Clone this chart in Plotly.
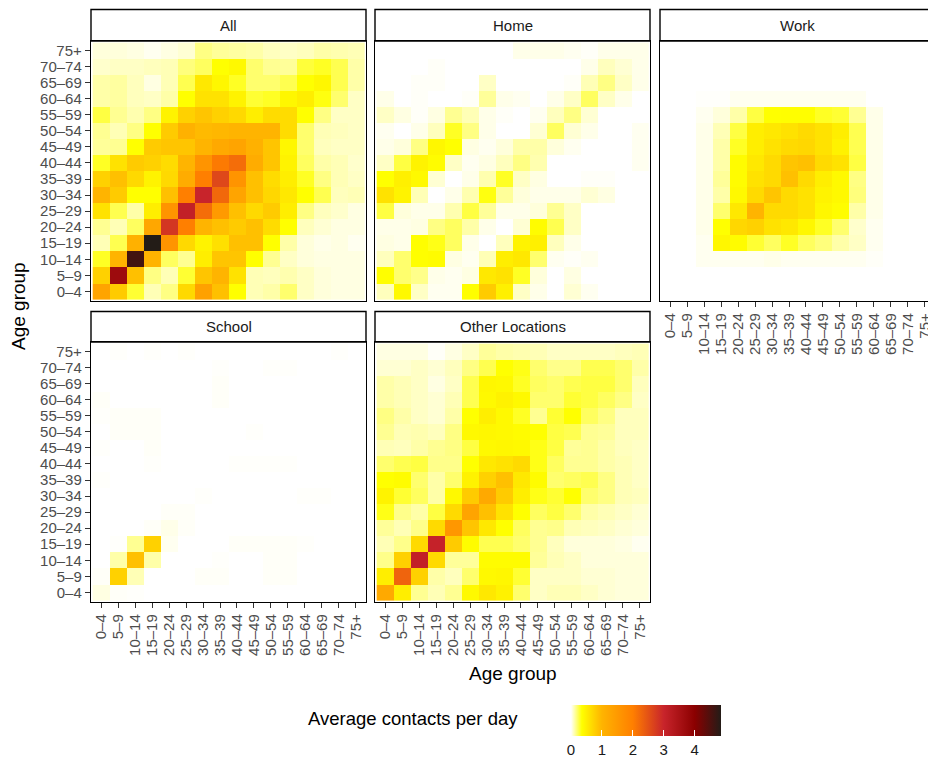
import plotly.graph_objects as go

AGE_GROUPS = ["0–4", "5–9", "10–14", "15–19", "20–24", "25–29", "30–34", "35–39",
              "40–44", "45–49", "50–54", "55–59", "60–64", "65–69", "70–74", "75+"]

# Contact matrices: rows run from 75+ (top) down to 0–4 (bottom),
# columns run from 0–4 (left) to 75+ (right).
ALL = [
    [0.05, 0.05, 0.04, 0.02, 0.04, 0.06, 0.17, 0.14, 0.13, 0.12, 0.09, 0.08, 0.09, 0.12, 0.11, 0.10],
    [0.07, 0.08, 0.08, 0.09, 0.10, 0.18, 0.22, 0.35, 0.40, 0.20, 0.15, 0.14, 0.27, 0.30, 0.24, 0.12],
    [0.12, 0.13, 0.09, 0.04, 0.10, 0.24, 0.55, 0.42, 0.30, 0.20, 0.20, 0.24, 0.35, 0.42, 0.24, 0.12],
    [0.12, 0.13, 0.09, 0.08, 0.12, 0.35, 0.60, 0.60, 0.45, 0.28, 0.30, 0.42, 0.50, 0.33, 0.20, 0.08],
    [0.26, 0.15, 0.11, 0.17, 0.45, 0.75, 0.85, 0.75, 0.68, 0.50, 0.65, 0.65, 0.35, 0.17, 0.08, 0.08],
    [0.15, 0.10, 0.17, 0.35, 0.80, 1.05, 0.95, 0.97, 1.00, 1.00, 1.00, 0.65, 0.20, 0.10, 0.09, 0.08],
    [0.14, 0.15, 0.35, 0.80, 0.85, 0.85, 1.00, 1.20, 1.30, 1.05, 0.85, 0.42, 0.20, 0.09, 0.08, 0.08],
    [0.30, 0.60, 0.80, 0.75, 0.65, 1.00, 1.60, 2.05, 2.20, 1.15, 0.85, 0.45, 0.22, 0.12, 0.10, 0.07],
    [0.75, 0.90, 0.68, 0.45, 0.68, 1.15, 2.00, 2.60, 1.60, 0.90, 0.65, 0.50, 0.30, 0.17, 0.10, 0.08],
    [1.00, 0.80, 0.35, 0.35, 0.90, 2.00, 3.00, 2.25, 1.30, 0.90, 0.70, 0.55, 0.35, 0.24, 0.09, 0.10],
    [0.60, 0.24, 0.12, 0.50, 1.60, 3.10, 2.20, 1.50, 0.90, 0.68, 0.80, 0.50, 0.17, 0.09, 0.07, 0.04],
    [0.15, 0.10, 0.22, 1.25, 2.80, 2.00, 1.00, 0.90, 0.80, 0.90, 0.65, 0.35, 0.09, 0.06, 0.04, 0.04],
    [0.10, 0.24, 1.05, 4.85, 1.60, 0.68, 0.45, 0.62, 0.90, 0.90, 0.35, 0.12, 0.05, 0.03, 0.04, 0.02],
    [0.30, 1.00, 4.60, 1.00, 0.22, 0.15, 0.50, 0.85, 0.85, 0.35, 0.15, 0.08, 0.05, 0.04, 0.04, 0.04],
    [0.75, 3.70, 0.90, 0.17, 0.10, 0.28, 0.85, 1.00, 0.60, 0.10, 0.09, 0.11, 0.08, 0.05, 0.04, 0.04],
    [1.30, 0.80, 0.28, 0.10, 0.17, 0.68, 1.35, 0.90, 0.35, 0.10, 0.12, 0.20, 0.08, 0.05, 0.04, 0.04],
]

HOME = [
    [0.00, 0.00, 0.00, 0.00, 0.00, 0.00, 0.00, 0.00, 0.03, 0.03, 0.03, 0.02, 0.01, 0.03, 0.03, 0.03],
    [0.00, 0.00, 0.00, 0.01, 0.00, 0.00, 0.00, 0.00, 0.00, 0.00, 0.00, 0.00, 0.03, 0.09, 0.06, 0.03],
    [0.00, 0.00, 0.01, 0.01, 0.00, 0.00, 0.08, 0.00, 0.00, 0.00, 0.00, 0.01, 0.10, 0.17, 0.08, 0.03],
    [0.03, 0.00, 0.01, 0.00, 0.00, 0.01, 0.14, 0.03, 0.02, 0.00, 0.03, 0.08, 0.22, 0.08, 0.03, 0.00],
    [0.08, 0.04, 0.01, 0.04, 0.15, 0.10, 0.03, 0.01, 0.00, 0.02, 0.09, 0.17, 0.06, 0.00, 0.00, 0.00],
    [0.02, 0.00, 0.03, 0.09, 0.30, 0.17, 0.03, 0.00, 0.00, 0.06, 0.22, 0.06, 0.03, 0.00, 0.00, 0.02],
    [0.03, 0.05, 0.17, 0.42, 0.35, 0.04, 0.02, 0.05, 0.12, 0.12, 0.05, 0.02, 0.00, 0.00, 0.00, 0.02],
    [0.08, 0.26, 0.45, 0.38, 0.08, 0.02, 0.04, 0.09, 0.17, 0.11, 0.00, 0.00, 0.00, 0.00, 0.00, 0.02],
    [0.35, 0.48, 0.40, 0.06, 0.00, 0.03, 0.11, 0.30, 0.08, 0.04, 0.00, 0.00, 0.01, 0.01, 0.00, 0.00],
    [0.60, 0.45, 0.10, 0.00, 0.03, 0.11, 0.33, 0.14, 0.05, 0.03, 0.03, 0.03, 0.06, 0.04, 0.00, 0.00],
    [0.26, 0.05, 0.03, 0.03, 0.11, 0.26, 0.14, 0.03, 0.03, 0.05, 0.15, 0.08, 0.00, 0.00, 0.00, 0.00],
    [0.03, 0.03, 0.04, 0.17, 0.22, 0.12, 0.03, 0.00, 0.06, 0.38, 0.24, 0.08, 0.00, 0.00, 0.00, 0.00],
    [0.04, 0.03, 0.36, 0.32, 0.22, 0.03, 0.00, 0.09, 0.45, 0.48, 0.09, 0.03, 0.00, 0.00, 0.00, 0.00],
    [0.09, 0.20, 0.36, 0.38, 0.04, 0.02, 0.10, 0.50, 0.55, 0.20, 0.02, 0.01, 0.02, 0.00, 0.00, 0.00],
    [0.36, 0.20, 0.16, 0.03, 0.02, 0.04, 0.55, 0.60, 0.30, 0.05, 0.00, 0.04, 0.00, 0.00, 0.00, 0.00],
    [0.09, 0.40, 0.08, 0.02, 0.02, 0.36, 0.80, 0.48, 0.08, 0.03, 0.00, 0.06, 0.02, 0.00, 0.00, 0.00],
]

WORK = [
    [0.00, 0.00, 0.00, 0.00, 0.00, 0.00, 0.00, 0.00, 0.00, 0.00, 0.00, 0.00, 0.00, 0.00, 0.00, 0.00],
    [0.00, 0.00, 0.00, 0.00, 0.00, 0.00, 0.00, 0.00, 0.00, 0.00, 0.00, 0.00, 0.00, 0.00, 0.00, 0.00],
    [0.00, 0.00, 0.00, 0.00, 0.00, 0.00, 0.00, 0.00, 0.00, 0.00, 0.00, 0.00, 0.00, 0.00, 0.00, 0.00],
    [0.00, 0.00, 0.005, 0.005, 0.02, 0.02, 0.02, 0.02, 0.02, 0.02, 0.02, 0.02, 0.00, 0.00, 0.00, 0.00],
    [0.00, 0.00, 0.02, 0.05, 0.12, 0.26, 0.35, 0.36, 0.36, 0.30, 0.28, 0.15, 0.03, 0.00, 0.00, 0.00],
    [0.00, 0.00, 0.03, 0.10, 0.26, 0.50, 0.55, 0.60, 0.67, 0.60, 0.50, 0.24, 0.03, 0.00, 0.00, 0.00],
    [0.00, 0.00, 0.03, 0.12, 0.30, 0.50, 0.60, 0.67, 0.70, 0.60, 0.46, 0.24, 0.03, 0.00, 0.00, 0.00],
    [0.00, 0.00, 0.03, 0.12, 0.38, 0.55, 0.67, 0.85, 0.90, 0.67, 0.60, 0.26, 0.03, 0.00, 0.00, 0.00],
    [0.00, 0.00, 0.03, 0.14, 0.38, 0.60, 0.67, 0.90, 0.67, 0.50, 0.40, 0.17, 0.03, 0.00, 0.00, 0.00],
    [0.00, 0.00, 0.03, 0.12, 0.40, 0.67, 0.85, 0.67, 0.60, 0.45, 0.40, 0.18, 0.03, 0.00, 0.00, 0.00],
    [0.00, 0.00, 0.03, 0.20, 0.55, 1.00, 0.67, 0.67, 0.60, 0.42, 0.37, 0.12, 0.03, 0.00, 0.00, 0.00],
    [0.00, 0.00, 0.03, 0.35, 0.70, 0.75, 0.60, 0.55, 0.42, 0.30, 0.20, 0.07, 0.02, 0.00, 0.00, 0.00],
    [0.00, 0.00, 0.02, 0.42, 0.38, 0.28, 0.22, 0.30, 0.22, 0.18, 0.12, 0.08, 0.02, 0.00, 0.00, 0.00],
    [0.00, 0.00, 0.02, 0.02, 0.02, 0.02, 0.03, 0.02, 0.02, 0.02, 0.02, 0.02, 0.01, 0.00, 0.00, 0.00],
    [0.00, 0.00, 0.00, 0.00, 0.00, 0.00, 0.00, 0.00, 0.00, 0.00, 0.00, 0.00, 0.00, 0.00, 0.00, 0.00],
    [0.00, 0.00, 0.00, 0.00, 0.00, 0.00, 0.00, 0.00, 0.00, 0.00, 0.00, 0.00, 0.00, 0.00, 0.00, 0.00],
]

SCHOOL = [
    [0.00, 0.005, 0.00, 0.005, 0.00, 0.005, 0.00, 0.00, 0.00, 0.00, 0.00, 0.00, 0.00, 0.00, 0.005, 0.00],
    [0.00, 0.00, 0.00, 0.00, 0.00, 0.00, 0.00, 0.005, 0.00, 0.00, 0.005, 0.005, 0.00, 0.00, 0.00, 0.00],
    [0.00, 0.00, 0.00, 0.00, 0.00, 0.00, 0.00, 0.01, 0.00, 0.00, 0.00, 0.00, 0.00, 0.00, 0.00, 0.00],
    [0.01, 0.00, 0.00, 0.00, 0.00, 0.00, 0.00, 0.01, 0.00, 0.00, 0.00, 0.00, 0.00, 0.00, 0.00, 0.00],
    [0.005, 0.01, 0.01, 0.01, 0.00, 0.00, 0.00, 0.00, 0.00, 0.00, 0.00, 0.00, 0.00, 0.00, 0.00, 0.00],
    [0.00, 0.01, 0.01, 0.01, 0.00, 0.00, 0.00, 0.00, 0.00, 0.005, 0.00, 0.00, 0.00, 0.00, 0.00, 0.00],
    [0.005, 0.00, 0.00, 0.01, 0.00, 0.00, 0.00, 0.00, 0.00, 0.00, 0.00, 0.00, 0.00, 0.00, 0.00, 0.00],
    [0.00, 0.00, 0.00, 0.005, 0.00, 0.00, 0.00, 0.00, 0.005, 0.005, 0.005, 0.005, 0.00, 0.00, 0.00, 0.00],
    [0.005, 0.00, 0.00, 0.00, 0.00, 0.00, 0.00, 0.00, 0.00, 0.00, 0.00, 0.00, 0.00, 0.00, 0.00, 0.00],
    [0.00, 0.00, 0.00, 0.00, 0.00, 0.00, 0.005, 0.00, 0.00, 0.00, 0.00, 0.00, 0.005, 0.005, 0.00, 0.00],
    [0.00, 0.00, 0.00, 0.00, 0.01, 0.01, 0.00, 0.00, 0.00, 0.00, 0.00, 0.00, 0.00, 0.00, 0.00, 0.00],
    [0.00, 0.00, 0.00, 0.01, 0.03, 0.01, 0.00, 0.00, 0.00, 0.00, 0.00, 0.00, 0.00, 0.00, 0.00, 0.00],
    [0.00, 0.005, 0.15, 0.75, 0.02, 0.00, 0.00, 0.00, 0.01, 0.01, 0.01, 0.01, 0.005, 0.00, 0.00, 0.00],
    [0.00, 0.12, 0.90, 0.12, 0.00, 0.00, 0.00, 0.005, 0.00, 0.00, 0.01, 0.01, 0.00, 0.00, 0.00, 0.00],
    [0.01, 0.75, 0.10, 0.00, 0.00, 0.00, 0.01, 0.01, 0.00, 0.00, 0.01, 0.01, 0.00, 0.00, 0.00, 0.00],
    [0.04, 0.01, 0.005, 0.00, 0.00, 0.00, 0.00, 0.00, 0.00, 0.00, 0.00, 0.00, 0.00, 0.00, 0.00, 0.00],
]

OTHER = [
    [0.04, 0.04, 0.04, 0.01, 0.04, 0.08, 0.14, 0.12, 0.11, 0.10, 0.08, 0.08, 0.08, 0.08, 0.09, 0.10],
    [0.06, 0.06, 0.08, 0.06, 0.09, 0.17, 0.24, 0.35, 0.32, 0.20, 0.16, 0.16, 0.24, 0.24, 0.20, 0.12],
    [0.12, 0.10, 0.08, 0.04, 0.08, 0.24, 0.42, 0.40, 0.30, 0.22, 0.20, 0.24, 0.26, 0.26, 0.20, 0.09],
    [0.12, 0.10, 0.08, 0.06, 0.10, 0.24, 0.40, 0.46, 0.40, 0.20, 0.20, 0.28, 0.26, 0.22, 0.17, 0.08],
    [0.17, 0.12, 0.08, 0.06, 0.12, 0.35, 0.50, 0.40, 0.30, 0.15, 0.28, 0.35, 0.22, 0.17, 0.09, 0.09],
    [0.15, 0.10, 0.11, 0.09, 0.17, 0.40, 0.42, 0.40, 0.38, 0.35, 0.26, 0.24, 0.15, 0.14, 0.09, 0.09],
    [0.10, 0.09, 0.12, 0.15, 0.17, 0.26, 0.40, 0.42, 0.40, 0.32, 0.26, 0.14, 0.15, 0.12, 0.09, 0.08],
    [0.20, 0.24, 0.26, 0.16, 0.16, 0.35, 0.55, 0.60, 0.67, 0.32, 0.22, 0.15, 0.15, 0.12, 0.10, 0.08],
    [0.35, 0.38, 0.20, 0.12, 0.20, 0.46, 0.75, 0.90, 0.55, 0.38, 0.20, 0.22, 0.24, 0.17, 0.10, 0.08],
    [0.45, 0.28, 0.22, 0.12, 0.40, 0.80, 1.20, 0.80, 0.50, 0.32, 0.28, 0.35, 0.20, 0.17, 0.10, 0.09],
    [0.32, 0.16, 0.12, 0.26, 0.67, 1.30, 0.90, 0.60, 0.35, 0.22, 0.26, 0.20, 0.12, 0.10, 0.08, 0.06],
    [0.14, 0.10, 0.16, 0.67, 1.55, 0.85, 0.55, 0.35, 0.22, 0.15, 0.16, 0.10, 0.09, 0.08, 0.06, 0.05],
    [0.10, 0.16, 0.67, 3.05, 0.80, 0.38, 0.24, 0.24, 0.20, 0.15, 0.09, 0.05, 0.05, 0.05, 0.04, 0.02],
    [0.16, 0.75, 3.10, 0.67, 0.14, 0.14, 0.38, 0.38, 0.38, 0.14, 0.10, 0.08, 0.05, 0.05, 0.05, 0.05],
    [0.50, 2.30, 0.75, 0.12, 0.09, 0.20, 0.40, 0.42, 0.28, 0.08, 0.08, 0.08, 0.06, 0.06, 0.05, 0.05],
    [1.20, 0.50, 0.15, 0.10, 0.15, 0.40, 0.55, 0.46, 0.20, 0.08, 0.10, 0.10, 0.08, 0.06, 0.05, 0.05],
]

PANEL_TITLES = ["All", "Home", "Work", "School", "Other Locations"]
PANEL_DATA = [ALL, HOME, WORK, SCHOOL, OTHER]

# Fill gradient: colour anchored at contact values
COLOR_STOPS = [(0.0, "#FFFFFF"), (0.35, "#FFFF00"), (1.0, "#FFB400"), (2.0, "#FF7F00"),
               (3.0, "#C8242B"), (4.0, "#8B0000"), (4.85, "#231C17")]
CMAX = 4.85
COLORBAR_TICKS = [0, 1, 2, 3, 4]

FONT = "Liberation Sans, Arial, sans-serif"
W, H = 928, 760


def fx(px):
    return px / W


def fy(px):
    return 1 - px / H


# facet grid geometry (pixels)
COLS = [(91, 366), (375, 650), (660, 935)]
ROW_PANELS = [(41, 301), (342, 602)]
ROW_STRIPS = [(9.5, 41), (311.5, 342)]
# panel -> (col, row, x tick labels, y tick labels)
LAYOUT = [(0, 0, False, True), (1, 0, False, False), (2, 0, True, False),
          (0, 1, True, True), (1, 1, True, False)]

colorscale = [[v / CMAX, c] for v, c in COLOR_STOPS]

fig = go.Figure()
layout = dict(
    width=W, height=H,
    margin=dict(l=0, r=0, t=0, b=0, autoexpand=False),
    paper_bgcolor="white", plot_bgcolor="white",
    font=dict(family=FONT, color="#1A1A1A"),
    showlegend=False,
    coloraxis=dict(
        colorscale=colorscale, cmin=0, cmax=CMAX,
        colorbar=dict(
            orientation="h", lenmode="pixels", len=150, thickness=31,
            x=fx(646), xanchor="center", y=fy(705), yanchor="top",
            xpad=0, ypad=0, outlinewidth=0,
            tickvals=COLORBAR_TICKS, ticks="inside", ticklen=6, tickwidth=1,
            tickcolor="white", tickfont=dict(size=15, color="#1A1A1A", family=FONT),
        ),
    ),
)
shapes = []
annotations = []

idx = list(range(len(AGE_GROUPS)))
for i, (title, data) in enumerate(zip(PANEL_TITLES, PANEL_DATA)):
    col, row, show_x, show_y = LAYOUT[i]
    n = "" if i == 0 else str(i + 1)
    x0, x1 = COLS[col]
    p0, p1 = ROW_PANELS[row]
    s0, s1 = ROW_STRIPS[row]
    clipped = x1 > W
    right = min(x1, W)
    xmax = -0.6 + 16.2 * (right - x0) / (x1 - x0)

    fig.add_trace(go.Heatmap(
        z=data[::-1], x=idx, y=idx, coloraxis="coloraxis",
        xaxis="x" + n, yaxis="y" + n, hoverongaps=False,
    ))

    layout["xaxis" + n] = dict(
        domain=[fx(x0), fx(right)], anchor="y" + n, range=[-0.6, xmax],
        tickvals=idx, ticktext=AGE_GROUPS, showticklabels=show_x,
        ticks="outside" if show_x else "", ticklen=5, tickwidth=1, tickcolor="#333333",
        tickangle=-90, tickfont=dict(size=15, color="#4D4D4D", family=FONT),
        ticklabeloverflow="allow", automargin=False,
        showgrid=False, zeroline=False, showline=True, linecolor="black",
        linewidth=1.4, mirror=True, fixedrange=True,
    )
    layout["yaxis" + n] = dict(
        domain=[fy(p1), fy(p0)], anchor="x" + n, range=[-0.6, 15.6],
        tickvals=idx, ticktext=AGE_GROUPS, showticklabels=show_y,
        ticks="outside" if show_y else "", ticklen=5, tickwidth=1, tickcolor="#333333",
        tickfont=dict(size=15, color="#4D4D4D", family=FONT), automargin=False,
        showgrid=False, zeroline=False, showline=True, linecolor="black",
        linewidth=1.4, mirror=not clipped, fixedrange=True,
    )

    # facet strip
    shapes.append(dict(type="rect", xref="paper", yref="paper",
                       x0=fx(x0), x1=fx(x1), y0=fy(s1), y1=fy(s0),
                       fillcolor="white", line=dict(color="black", width=1.4), layer="below"))
    annotations.append(dict(text=title, xref="paper", yref="paper",
                            x=fx((x0 + x1) / 2), y=fy((s0 + s1) / 2),
                            xanchor="center", yanchor="middle", showarrow=False,
                            font=dict(size=15, color="#1A1A1A", family=FONT)))

# axis titles
annotations.append(dict(text="Age group", xref="paper", yref="paper",
                        x=fx(513), y=fy(673), xanchor="center", yanchor="middle",
                        showarrow=False, font=dict(size=19, color="black", family=FONT)))
annotations.append(dict(text="Age group", xref="paper", yref="paper",
                        x=fx(18), y=fy(306), xanchor="center", yanchor="middle",
                        textangle=-90, showarrow=False,
                        font=dict(size=19, color="black", family=FONT)))
# colour legend title
annotations.append(dict(text="Average contacts per day", xref="paper", yref="paper",
                        x=fx(520), y=fy(718), xanchor="right", yanchor="middle",
                        showarrow=False, font=dict(size=18.5, color="black", family=FONT)))

layout["shapes"] = shapes
layout["annotations"] = annotations
fig.update_layout(**layout)
fig.write_html("out.html", config={"displayModeBar": False})
